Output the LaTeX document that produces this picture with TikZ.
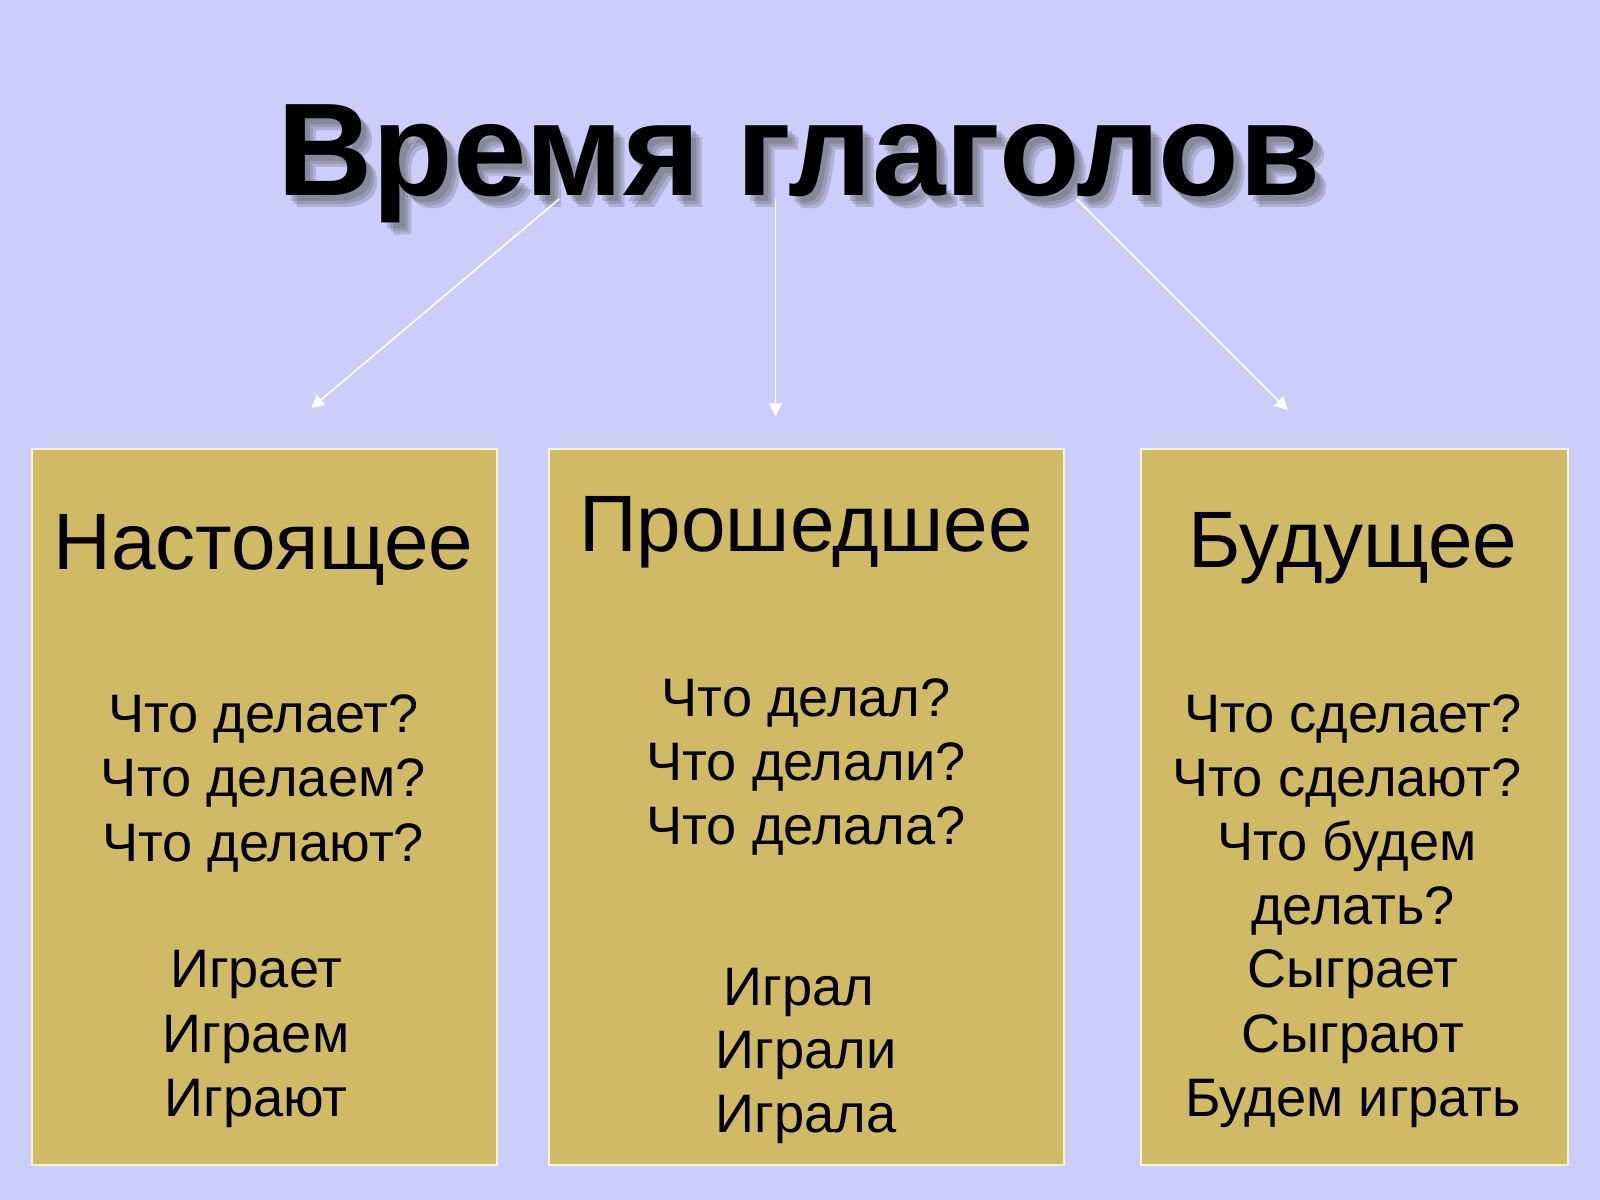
\documentclass[tikz,border=0pt]{standalone}
\usepackage{fontspec}
\setmainfont{Liberation Sans}
\usepackage{tikz}
\usetikzlibrary{calc,arrows.meta}

\definecolor{slidebg}{RGB}{205,205,250}
\definecolor{boxfill}{RGB}{207,187,102}
\definecolor{boxline}{RGB}{250,245,215}

\begin{document}
\begin{tikzpicture}[x=0.01cm, y=-0.01cm,
    title/.style  = {font=\fontsize{36.8}{40}\selectfont\bfseries, anchor=base, inner sep=0},
    head/.style   = {font=\fontsize{22.3}{26}\selectfont, anchor=base, inner sep=0},
    body/.style   = {font=\fontsize{15.1}{18}\selectfont, anchor=base, inner sep=0},
    tensebox/.style = {draw=boxline, line width=0.6pt, fill=boxfill},
    link/.style   = {draw=white, line width=0.45pt, -{Triangle[length=3.6pt, width=3.6pt]}}]
  \tikzset{every node/.style={text centered}}
  % background
  \fill[slidebg] (0,0) rectangle (1568,1176);
  \useasboundingbox (0,0) rectangle (1568,1176);

  % title with a soft shadow
  \foreach \d in {5,8,11}
    \node[title, text=black!70, opacity=0.22] at ({783+\d},{192+\d}) {Время глаголов};
  \node[title] (verb) at (783,192) {Время глаголов};
  \coordinate (vl) at (548,195);
  \coordinate (vm) at (760,195);
  \coordinate (vr) at (1055,195);

  % three boxes
  \path[tensebox] (31,440) rectangle (487,1142);
  \path[tensebox] (538,440) rectangle (1043,1142);
  \path[tensebox] (1118,440) rectangle (1537,1142);

  % arrow ends above the boxes
  \coordinate (pl) at (305,400);
  \coordinate (pm) at (760,408);
  \coordinate (pr) at (1262,402);
  \draw[link] (vl) -- (pl);
  \draw[link] (vm) -- (pm);
  \draw[link] (vr) -- (pr);

  % headings
  \node[head] (present) at (258,558) {Настоящее};
  \node[head] (past)    at (790,540) {Прошедшее};
  \node[head] (future)  at (1326,556) {Будущее};

  % present
  \foreach \t [count=\i] in {Что делает?, Что делаем?, Что делают?}
    \node[body] (presq\i) at (258,{718+63*(\i-1)}) {\t};
  \foreach \t [count=\i] in {Играет, Играем, Играют}
    \node[body] (presv\i) at (251,{968+63*(\i-1)}) {\t};

  % past
  \foreach \t [count=\i] in {Что делал?, Что делали?, Что делала?}
    \node[body] (pastq\i) at (790,{702+63*(\i-1)}) {\t};
  \node[body] (pastv1) at (783,985) {Играл};
  \node[body] (pastv2) at (790,1047) {Играли};
  \node[body] (pastv3) at (790,1110) {Играла};

  % future
  \node[body] (futq1) at (1326,718) {Что сделает?};
  \node[body] (futq2) at (1320,781) {Что сделают?};
  \node[body] (futq3) at (1320,843) {Что будем};
  \node[body] (futq4) at (1326,906) {делать?};
  \foreach \t [count=\i] in {Сыграет, Сыграют, Будем играть}
    \node[body] (futv\i) at (1326,{968+63*(\i-1)}) {\t};
\end{tikzpicture}
\end{document}
